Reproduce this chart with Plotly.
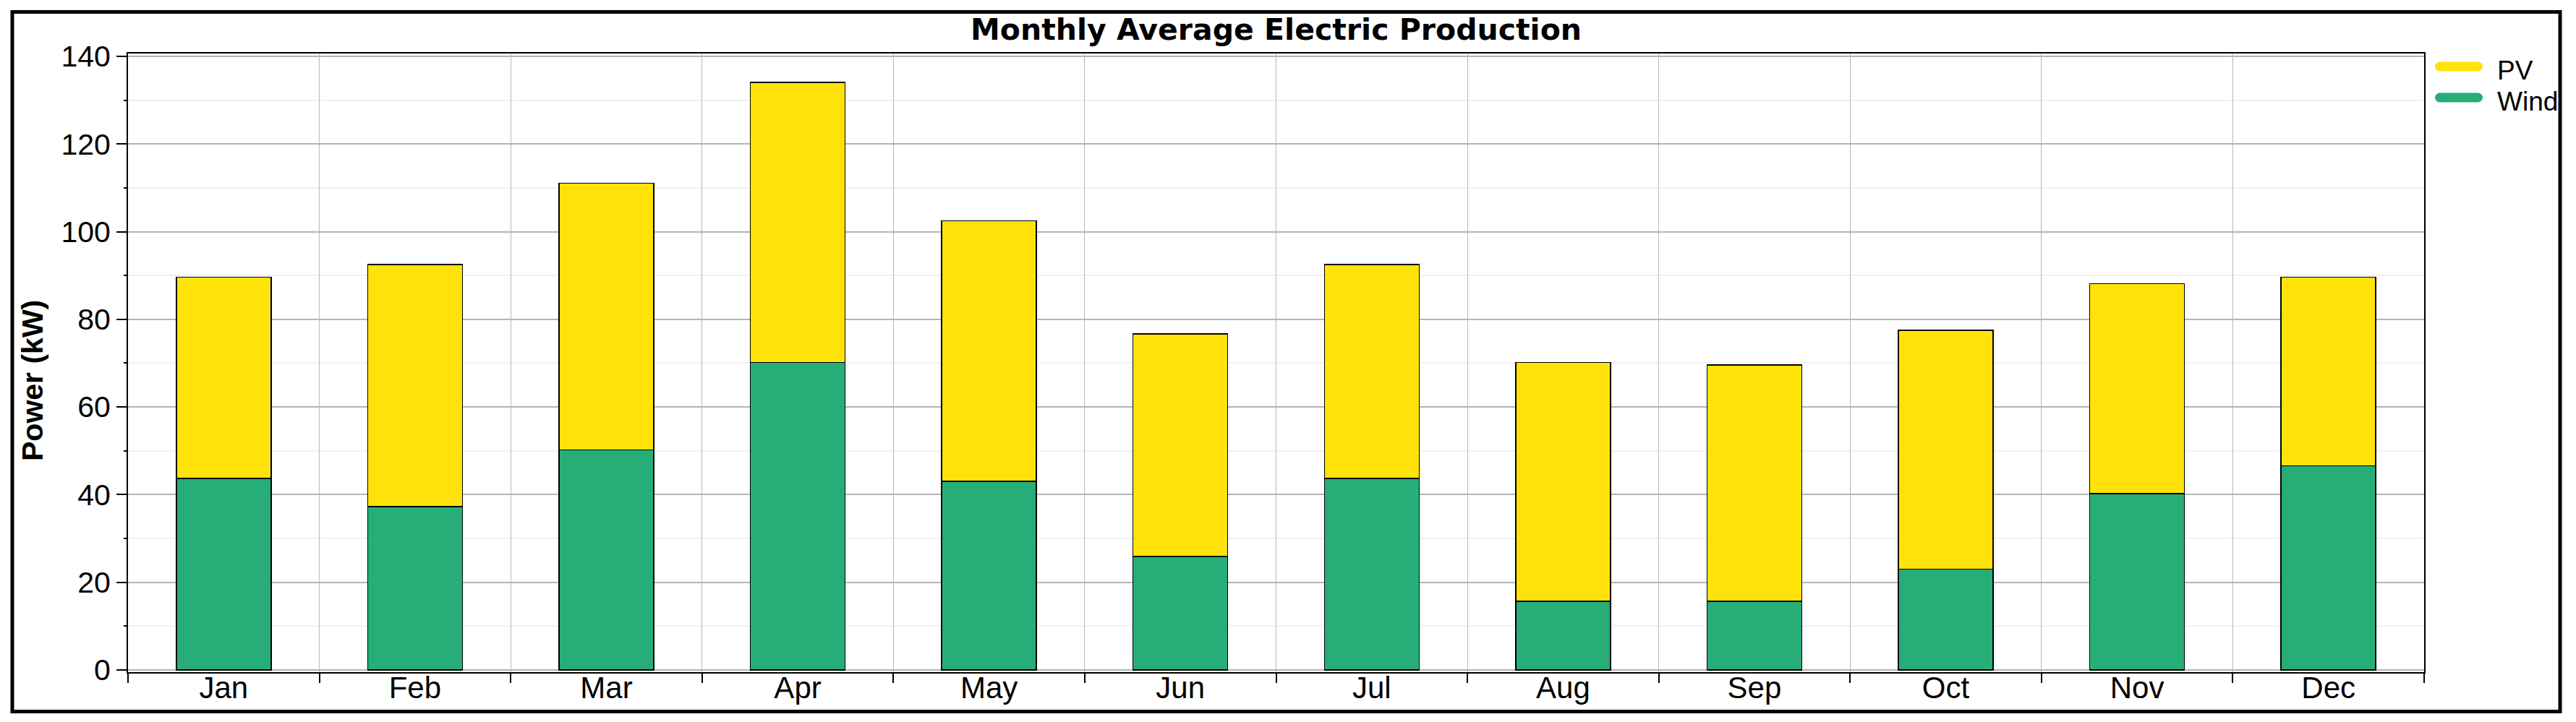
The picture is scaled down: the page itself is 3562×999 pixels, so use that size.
import plotly.graph_objects as go

months = ["Jan", "Feb", "Mar", "Apr", "May", "Jun", "Jul", "Aug", "Sep", "Oct", "Nov", "Dec"]
wind = [43.7, 37.3, 50.2, 70.2, 43.0, 25.9, 43.7, 15.7, 15.7, 23.0, 40.2, 46.6]
pv = [45.9, 55.2, 60.9, 63.9, 59.5, 50.8, 48.8, 54.5, 53.9, 54.5, 47.9, 43.0]
y_ticks = [0, 20, 40, 60, 80, 100, 120, 140]

series_names = ["PV", "Wind"]
series_colors = {"PV": "#FFE20A", "Wind": "#27AE78"}

W, H = 3562, 999
L, R, T, B = 177, 210, 74, 69
PW, PH = W - L - R, H - T - B

def px(x):
    return (x - L) / PW

def py(y):
    return (H - B - y) / PH

FONT = "Liberation Sans, Arial, sans-serif"

fig = go.Figure()
fig.add_trace(go.Bar(x=months, y=wind, name="Wind", marker=dict(color=series_colors["Wind"], line=dict(color="black", width=1.5)), showlegend=False))
fig.add_trace(go.Bar(x=months, y=pv, name="PV", marker=dict(color=series_colors["PV"], line=dict(color="black", width=1.5)), showlegend=False))

shapes = []
# outer frame
shapes.append(dict(type="rect", xref="paper", yref="paper", x0=px(17), x1=px(3540), y0=py(984.5), y1=py(16.5),
                   line=dict(color="black", width=5), fillcolor="rgba(0,0,0,0)", layer="above"))
annotations = []
# legend (manual, rounded line swatches)
leg_y = {"PV": 92, "Wind": 135}
lx0, lx1, lw = 3367, 3433, 13
for name in series_names:
    c = series_colors[name]
    yc = leg_y[name]
    shapes.append(dict(type="rect", xref="paper", yref="paper", x0=px(lx0 + lw / 2), x1=px(lx1 - lw / 2),
                       y0=py(yc + lw / 2), y1=py(yc - lw / 2), line=dict(width=0), fillcolor=c))
    for cx in (lx0 + lw / 2, lx1 - lw / 2):
        shapes.append(dict(type="circle", xref="paper", yref="paper", x0=px(cx - lw / 2), x1=px(cx + lw / 2),
                           y0=py(yc + lw / 2), y1=py(yc - lw / 2), line=dict(width=0), fillcolor=c))
    annotations.append(dict(text=name, xref="paper", yref="paper", x=px(3451), y=py(yc + 5), xanchor="left", yanchor="middle",
                            showarrow=False, font=dict(family=FONT, size=37, color="black")))

# y-axis title
annotations.append(dict(text="<b>Power (kW)</b>", xref="paper", yref="paper", x=px(45), y=py(527), textangle=-90,
                        xanchor="center", yanchor="middle", showarrow=False,
                        font=dict(family="Liberation Sans Narrow, Liberation Sans, Arial", size=41, color="black")))

fig.update_layout(
    width=W, height=H,
    margin=dict(l=L, r=R, t=T, b=B, autoexpand=False),
    barmode="stack",
    bargap=0.505,
    plot_bgcolor="white", paper_bgcolor="white",
    title=dict(text="<b>Monthly Average Electric Production</b>", x=px(1764.5), xref="paper", xanchor="center",
               y=1 - 41 / H, yanchor="middle", font=dict(family="DejaVu Sans, sans-serif", size=41, color="black")),
    shapes=shapes,
    annotations=annotations,
    showlegend=False,
)
fig.update_xaxes(
    type="category", range=[-0.5, 11.5], automargin=False,
    showline=True, linecolor="black", linewidth=2, mirror=True,
    ticks="outside", tickson="boundaries", ticklen=13, tickwidth=2, tickcolor="black",
    ticklabelstandoff=-16,
    showgrid=True, gridcolor="#b8b8b8", gridwidth=1,
    tickfont=dict(family=FONT, size=42, color="black"),
)
fig.update_yaxes(
    range=[-0.5, 140.66], tickvals=y_ticks, automargin=False,
    showline=True, linecolor="black", linewidth=2, mirror=True,
    ticks="outside", ticklen=14, tickwidth=2, tickcolor="black",
    showgrid=True, gridcolor="#b4b4b4", gridwidth=2, zeroline=False,
    tickfont=dict(family=FONT, size=41, color="black"),
    minor=dict(dtick=10, tick0=0, ticks="outside", ticklen=4, tickwidth=2, tickcolor="black",
               showgrid=True, gridcolor="#f0f0f0", gridwidth=2),
)

fig.write_html("out.html", config={"displayModeBar": False},
               post_script="document.body.style.margin='0';document.body.style.overflow='hidden';")
